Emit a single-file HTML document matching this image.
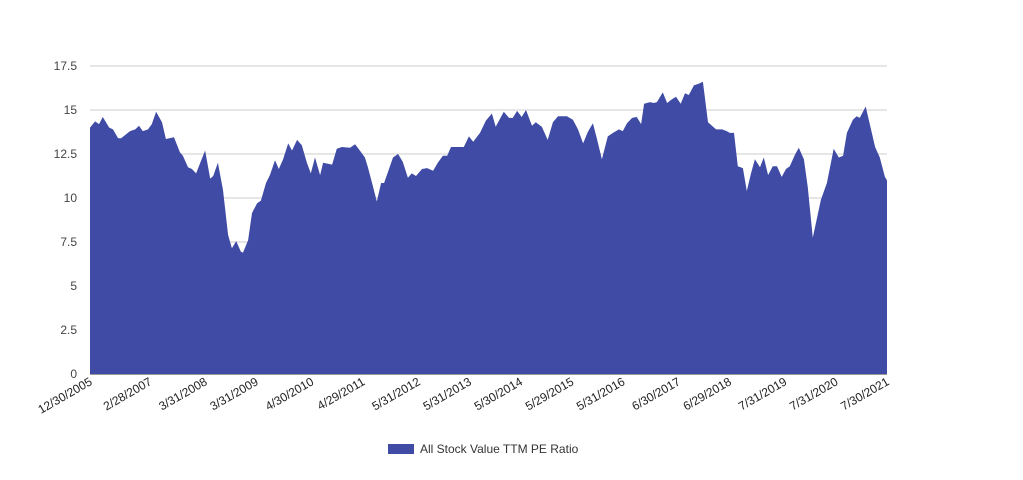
<!DOCTYPE html>
<html><head><meta charset="utf-8">
<style>
body{margin:0;background:#fff;font-family:"Liberation Sans",Arial,sans-serif;}
svg text{font-family:"Liberation Sans",Arial,sans-serif;}
</style></head>
<body>
<svg id="chart" width="1023" height="475" viewBox="0 0 1023 475" xmlns="http://www.w3.org/2000/svg">
<g id="grid"></g>
<g id="yaxis"></g>
<path id="area" fill="#3f4ba5"></path>
<g id="xaxis"></g>
<g>
<rect x="388" y="444" width="26" height="10" fill="#3f4ba5"></rect>
<text x="420" y="453" font-size="12" fill="#333">All Stock Value TTM PE Ratio</text>
</g>
</svg>
<script>
const months=[0,1.2,2.1,3.0,4.5,5.4,6.6,7.3,9.4,10.6,11.5,12.4,13.6,14.5,15.5,16.9,17.8,19.7,21.1,21.8,23.0,23.9,24.9,27.0,28.2,28.9,30.0,31.2,32.4,33.3,34.3,35.4,35.9,37.1,38.0,39.2,40.1,41.3,42.2,43.4,44.3,45.3,46.5,47.4,48.6,49.7,50.9,51.8,52.8,54.0,54.7,56.8,57.9,59.1,61.0,62.2,63.3,64.5,65.2,66.4,67.3,68.3,69.0,71.1,72.3,73.4,74.6,75.5,76.5,77.9,79.1,80.5,81.6,82.8,83.8,84.7,86.8,87.7,88.9,89.9,91.5,92.9,94.3,95.2,97.1,98.3,99.2,100.2,101.3,102.3,103.7,104.6,106.0,107.4,108.6,109.8,111.9,113.3,114.5,115.7,116.8,118.0,118.9,120.1,121.5,122.7,124.1,125.0,126.0,127.2,128.3,129.3,130.0,131.4,132.3,133.0,134.4,135.4,136.5,137.5,138.6,139.6,140.5,141.7,142.9,143.8,145.0,146.9,148.3,149.4,150.1,151.1,152.0,153.2,154.1,155.1,156.0,157.2,158.1,159.1,160.2,161.2,162.3,163.3,164.2,165.4,166.3,167.5,168.4,169.6,171.5,172.9,174.5,175.7,176.7,177.6,179.0,179.9,180.6,182.0,184.2,185.3,186.5,187.0];
const values=[14.0,14.35,14.2,14.6,14.0,13.9,13.4,13.4,13.8,13.9,14.1,13.8,13.9,14.2,14.9,14.3,13.35,13.45,12.6,12.4,11.75,11.65,11.4,12.7,11.1,11.25,12.0,10.45,7.9,7.15,7.55,6.95,6.9,7.6,9.15,9.7,9.85,10.85,11.3,12.15,11.65,12.2,13.1,12.7,13.3,13.0,12.0,11.4,12.3,11.3,12.0,11.9,12.8,12.9,12.85,13.05,12.7,12.3,11.75,10.65,9.8,10.85,10.85,12.3,12.5,12.05,11.15,11.4,11.25,11.65,11.7,11.55,12.0,12.4,12.4,12.9,12.9,12.9,13.5,13.2,13.7,14.4,14.8,14.05,14.9,14.55,14.55,14.95,14.6,15.0,14.1,14.3,14.05,13.3,14.3,14.65,14.65,14.45,13.9,13.1,13.75,14.25,13.4,12.2,13.5,13.7,13.9,13.8,14.25,14.55,14.6,14.2,15.35,15.45,15.4,15.45,16.0,15.4,15.6,15.75,15.35,15.95,15.85,16.4,16.5,16.6,14.3,13.9,13.9,13.8,13.7,13.7,11.8,11.7,10.4,11.4,12.2,11.75,12.3,11.3,11.8,11.8,11.2,11.65,11.8,12.45,12.85,12.2,10.65,7.75,9.9,10.85,12.8,12.3,12.4,13.7,14.45,14.65,14.55,15.2,12.9,12.3,11.2,11.0];
const tickLabels=["12/30/2005","2/28/2007","3/31/2008","3/31/2009","4/30/2010","4/29/2011","5/31/2012","5/31/2013","5/30/2014","5/29/2015","5/31/2016","6/30/2017","6/29/2018","7/31/2019","7/31/2020","7/30/2021"];
const tickMonths=[0,14,27,39,52,64,77,89,101,113,125,138,150,163,175,187];
const yTicks=[0,2.5,5,7.5,10,12.5,15,17.5];
const yLabels=["0","2.5","5","7.5","10","12.5","15","17.5"];

const X0=90,X1=887,Y0=374,Y1=66,MMAX=187,VMAX=17.5;
const xs=m=>X0+(m/MMAX)*(X1-X0);
const ys=v=>Y0-(v/VMAX)*(Y0-Y1);
const NS="http://www.w3.org/2000/svg";
const grid=document.getElementById('grid'),yaxis=document.getElementById('yaxis'),xaxis=document.getElementById('xaxis');
yTicks.forEach((t,i)=>{
  const l=document.createElementNS(NS,'line');
  
  
  l.setAttribute('x1',X0);l.setAttribute('x2',X1);l.setAttribute('y1',ys(t));l.setAttribute('y2',ys(t));
  l.setAttribute('stroke',t===0?'#333':'#ccc');l.setAttribute('stroke-width','1');
  grid.appendChild(l);
  const tx=document.createElementNS(NS,'text');
  
  
  tx.setAttribute('x',77);tx.setAttribute('y',ys(t)+4);tx.setAttribute('text-anchor','end');
  tx.setAttribute('font-size','12');tx.setAttribute('fill','#444');
  tx.textContent=yLabels[i];yaxis.appendChild(tx);
});
let d='M'+xs(months[0])+','+ys(0);
months.forEach((m,i)=>{d+=' L'+xs(m).toFixed(1)+','+ys(values[i]).toFixed(1);});
d+=' L'+xs(months[months.length-1])+','+ys(0)+' Z';
document.getElementById('area').setAttribute('d',d);
tickLabels.forEach((lab,i)=>{
  const x=xs(tickMonths[i]);
  const tx=document.createElementNS(NS,'text');
  
  
  tx.setAttribute('transform','translate('+(x+3)+',384) rotate(-30)');
  tx.setAttribute('text-anchor','end');tx.setAttribute('font-size','12');tx.setAttribute('fill','#222');
  tx.textContent=lab;xaxis.appendChild(tx);
});
</script>
</body></html>
